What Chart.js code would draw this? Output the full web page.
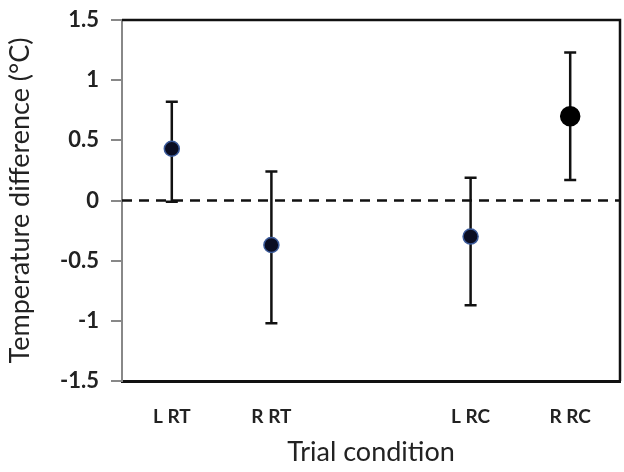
<!DOCTYPE html>
<html>
<head>
<meta charset="utf-8">
<script src="https://cdn.jsdelivr.net/npm/chart.js@4.4.0/dist/chart.umd.min.js"></script>
<style>
  html, body { margin: 0; padding: 0; background: #fff; }
  #wrap { width: 624px; height: 472px; }
</style>
</head>
<body>
<div id="wrap"><canvas id="chart"></canvas></div>
<script>
// Datos (hueco vacío entre RT y RC)
const categories = ['L RT', 'R RT', '', 'L RC', 'R RC'];
const meanValues = [0.43, -0.37, null, -0.30, 0.70];
const upperValues = [0.82, 0.24, null, 0.19, 1.23];
const lowerValues = [-0.01, -1.02, null, -0.87, 0.17];
const yTicks = [-1.5, -1, -0.5, 0, 0.5, 1, 1.5];

const FONT = 'Lato, "Open Sans", sans-serif';

// Barras de error, línea discontinua en cero y marco del gráfico
const errorBarsPlugin = {
    id: 'errorBars',
    beforeDatasetsDraw(chart) {
        const ctx = chart.ctx;
        const x = chart.scales.x;
        const y = chart.scales.y;
        const area = chart.chartArea;

        // línea en cero
        ctx.save();
        ctx.strokeStyle = '#111';
        ctx.lineWidth = 2.5;
        ctx.setLineDash([10, 7]);
        const y0 = y.getPixelForValue(0);
        ctx.beginPath();
        ctx.moveTo(area.left, y0);
        ctx.lineTo(area.right, y0);
        ctx.stroke();
        ctx.restore();

        // barras de error
        ctx.save();
        ctx.strokeStyle = '#111';
        ctx.lineWidth = 2.5;
        categories.forEach((c, i) => {
            if (meanValues[i] === null) return;
            const px = x.getPixelForValue(i);
            const top = y.getPixelForValue(upperValues[i]);
            const bot = y.getPixelForValue(lowerValues[i]);
            ctx.beginPath();
            ctx.moveTo(px, top);
            ctx.lineTo(px, bot);
            ctx.moveTo(px - 6, top);
            ctx.lineTo(px + 6, top);
            ctx.moveTo(px - 6, bot);
            ctx.lineTo(px + 6, bot);
            ctx.stroke();
        });
        ctx.restore();

        // marco superior y derecho
        ctx.save();
        ctx.strokeStyle = '#111';
        ctx.lineWidth = 2.5;
        ctx.beginPath();
        ctx.moveTo(area.left, area.top);
        ctx.lineTo(area.right, area.top);
        ctx.lineTo(area.right, area.bottom);
        ctx.stroke();
        ctx.restore();
    }
};

const ctx = document.getElementById('chart').getContext('2d');
new Chart(ctx, {
    type: 'line',
    data: {
        labels: categories,
        datasets: [{
            data: meanValues,
            showLine: false,
            pointRadius: [7.5, 7.5, 0, 7.5, 9.5],
            pointBackgroundColor: ['#0a0d22', '#0a0d22', '#0a0d22', '#0a0d22', '#000'],
            pointBorderColor: ['#3b5a9a', '#3b5a9a', '#3b5a9a', '#3b5a9a', '#000'],
            pointBorderWidth: 1.5,
            pointHoverRadius: 7
        }]
    },
    options: {
        responsive: true,
        maintainAspectRatio: false,
        animation: false,
        layout: { autoPadding: false, padding: { top: 20, right: 4, left: 0, bottom: 0 } },
        plugins: {
            legend: { display: false },
            tooltip: { enabled: false }
        },
        scales: {
            x: {
                offset: true,
                afterFit: (s) => { s.height = 91; },
                grid: { display: false, drawTicks: false },
                border: { color: '#111', width: 3 },
                ticks: {
                    color: '#222',
                    padding: 24,
                    font: { family: FONT, size: 19, weight: 'bold' },
                    maxRotation: 0
                },
                title: {
                    display: true,
                    text: 'Trial condition',
                    color: '#222',
                    font: { family: FONT, size: 27 },
                    padding: { top: 6 }
                }
            },
            y: {
                min: -1.5,
                max: 1.5,
                afterFit: (s) => { s.width = 122; s.paddingTop = 0; s.paddingBottom = 0; },
                afterBuildTicks: (s) => { s.ticks = yTicks.map(v => ({ value: v })); },
                grid: { drawOnChartArea: false, tickLength: 11, color: '#888', lineWidth: 2 },
                border: { color: '#888', width: 2 },
                ticks: {
                    color: '#222',
                    padding: 12,
                    font: { family: FONT, size: 22, weight: 'bold' },
                    callback: (v) => String(v)
                },
                title: {
                    display: true,
                    text: 'Temperature difference (°C)',
                    color: '#222',
                    font: { family: FONT, size: 27 },
                    padding: { top: 4, bottom: 0 }
                }
            }
        }
    },
    plugins: [errorBarsPlugin]
});
</script>
</body>
</html>
